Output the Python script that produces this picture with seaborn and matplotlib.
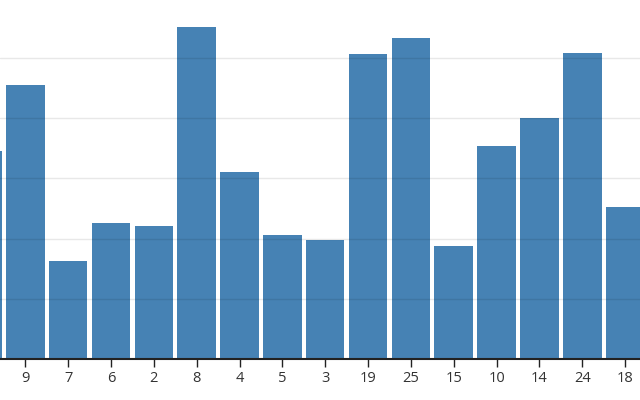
import matplotlib
matplotlib.use("Agg")
import matplotlib.pyplot as plt
import seaborn as sns
import pandas as pd

labels = ["12", "9", "7", "6", "2", "8", "4", "5", "3", "19", "25", "15", "10", "14", "24", "18"]
values = [34.5, 45.5, 16.3, 22.5, 22.0, 55.2, 31.0, 20.6, 19.8, 50.6, 53.3, 18.7, 35.4, 40.0, 50.8, 25.3]
grid_values = [10, 20, 30, 40, 50]

sns.set_theme(style="white")
plt.rcParams["font.family"] = ["Open Sans", "DejaVu Sans"]

df = pd.DataFrame({"label": labels, "value": values})

fig = plt.figure(figsize=(6.4, 4.0), dpi=100)
ax = fig.add_axes([0, 41 / 400, 1, 359 / 400])

sns.barplot(data=df, x="label", y="value", order=labels, color="#4682b4",
            saturation=1, width=0.9, linewidth=0, ax=ax, zorder=2)

ax.set_xlim(0.4085, 15.348)
ax.set_ylim(0, 59.6)
ax.set_yticks(grid_values)
ax.set_yticklabels([])
ax.tick_params(axis="y", length=0)
for g in grid_values:
    ax.axhline(g, color="black", alpha=0.09, lw=1, zorder=3)

for s in ["left", "right", "top"]:
    ax.spines[s].set_visible(False)
ax.spines["bottom"].set_color("#222222")
ax.spines["bottom"].set_linewidth(1.5)
ax.spines["bottom"].set_zorder(4)
ax.tick_params(axis="x", length=6, width=1, color="#222222", labelsize=10.5,
               labelcolor="#333333", pad=3, bottom=True)
ax.set_xlabel("")
ax.set_ylabel("")

fig.savefig("out.png", dpi=100)
